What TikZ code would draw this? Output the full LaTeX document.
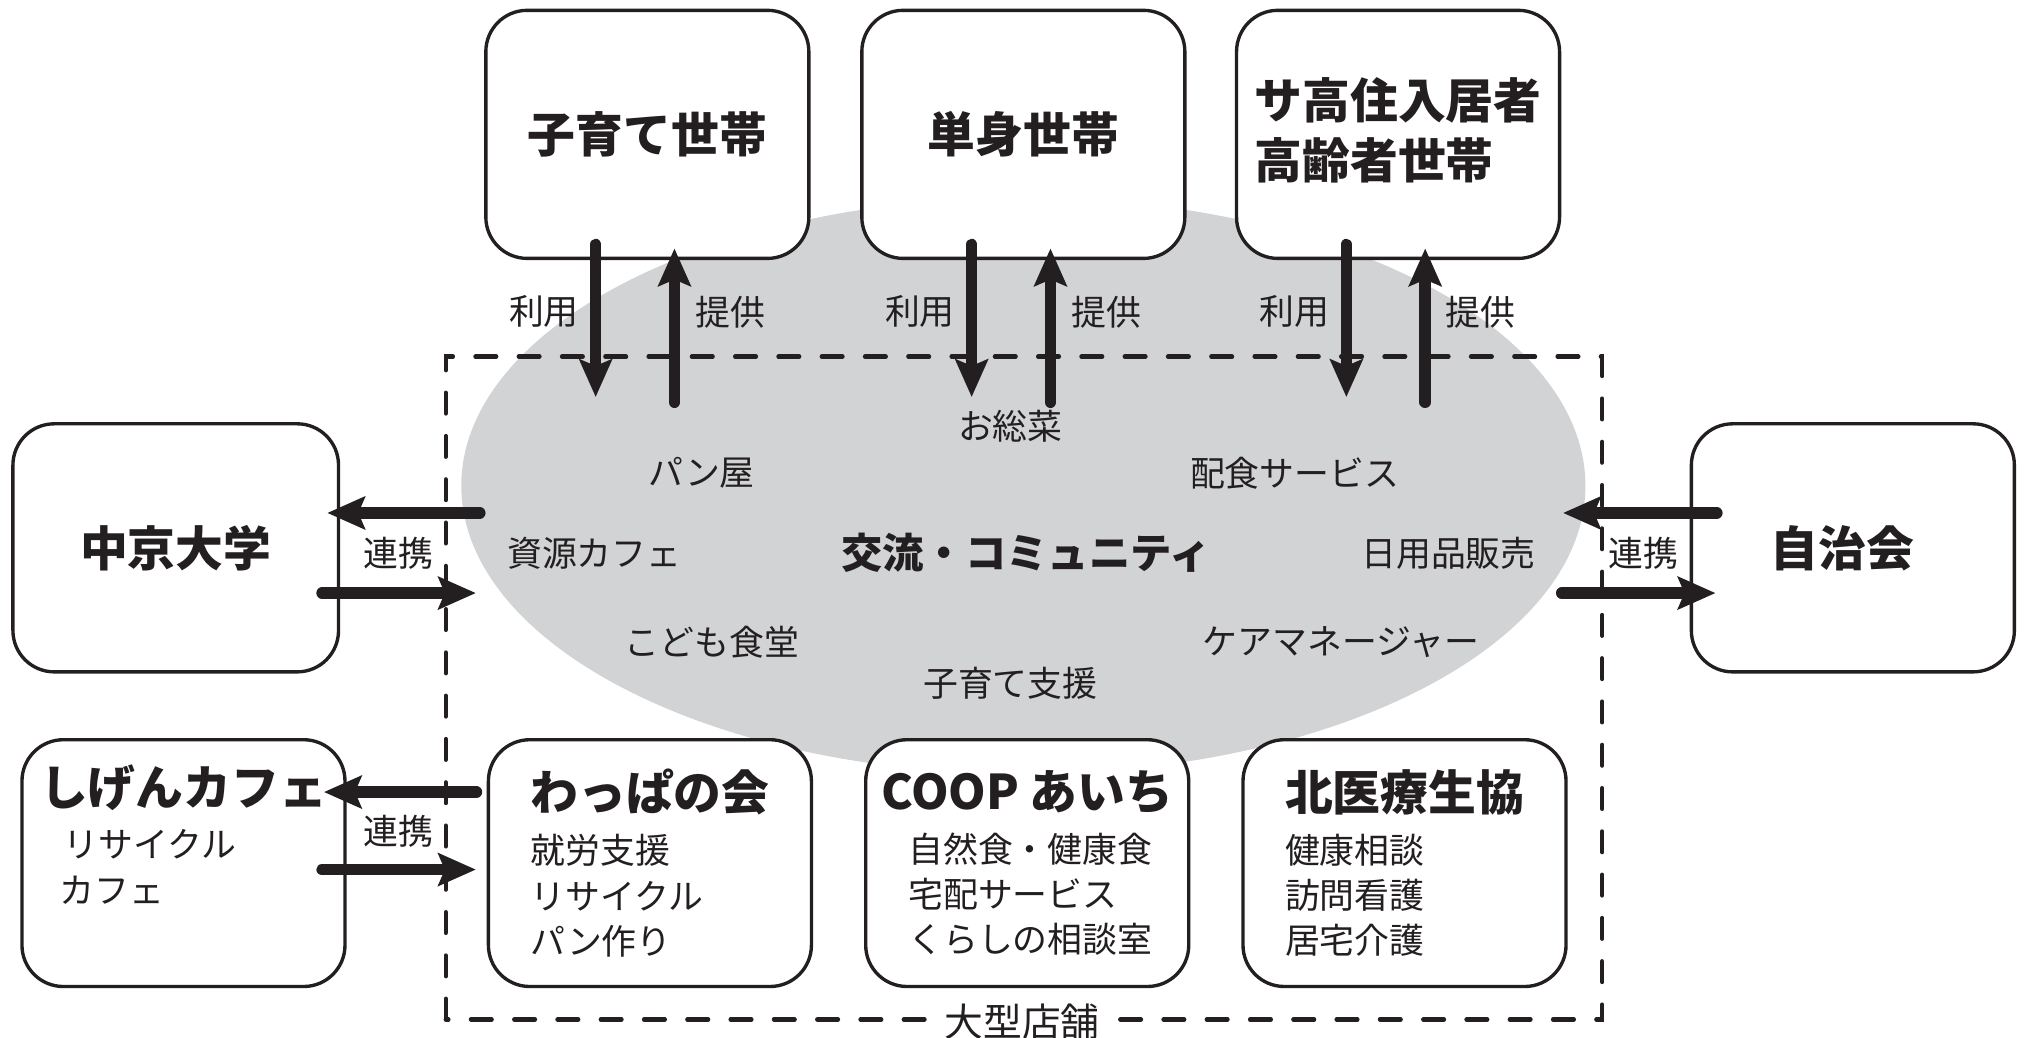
\documentclass[tikz,border=0pt]{standalone}
\usepackage{fontspec}
\setmainfont{Noto Sans CJK JP}
\usepackage{tikz}
\usetikzlibrary{arrows.meta}
\definecolor{ellgray}{RGB}{209,211,212}
\definecolor{ink}{RGB}{35,31,32}
\newcommand{\titlefont}{\fontsize{37}{46}\selectfont\bfseries}
\tikzset{box/.style={draw=ink, line width=2.6pt, fill=white, rounded corners=32pt,
   minimum width=250pt, minimum height=191pt, inner sep=0pt, text=ink},
 title/.style={font=\titlefont},
 lbl/.style={font=\fontsize{27}{35}\selectfont, text=ink},
 arr/.style={draw=ink, line width=9pt, line cap=round,
   -{Stealth[length=29pt,width=25pt,inset=5pt]}},
 store/.style={draw=ink, line width=3.4pt, line cap=round, dash pattern=on 16pt off 17.5pt},
 }

\begin{document}
\begin{tikzpicture}[x=1pt,y=1pt]
        \useasboundingbox (0,0) rectangle (1568,803);
        \fill[ellgray] (792,427) ellipse [x radius=435pt, y radius=223pt];
        \draw[store] (345,14) rectangle (1240,527);
        \node[lbl, fill=white, inner xsep=8pt, inner ysep=0pt, font=\fontsize{30}{35}\selectfont] (store) at (791,12) {大型店舗};

        \node[box, title, minimum height=192pt] (kosodate) at (501,699) {子育て世帯};
        \node[box, title, minimum height=192pt] (tanshin) at (792,699) {単身世帯};
        \node[box, title, minimum height=192pt, align=left] (sakou) at (1082,699) {サ高住入居者\\高齢者世帯\\[-36pt]};
        \node[box, title, minimum width=252pt, minimum height=192pt] (chukyo) at (136,379) {中京大学};
        \node[box, title, minimum height=192pt] (jichikai) at (1434,379) {自治会\hspace*{16pt}};

        \node[box, lbl, align=left] (shigen) at (142,135) {{\titlefont しげんカフェ}\\[6pt]
            \hspace*{18pt}リサイクル\\\hspace*{15pt}カフェ\\\strut};
        \node[box, lbl, align=left] (wappa) at (503,135) {{\titlefont わっぱの会}\\[6pt]
            就労支援\\リサイクル\\パン作り};
        \node[box, lbl, align=left] (coop) at (795,135) {{\titlefont COOP あいち}\\[6pt]
            \hspace*{21pt}自然食・健康食\\\hspace*{21pt}宅配サービス\\\hspace*{21pt}くらしの相談室};
        \node[box, lbl, align=left] (kita) at (1087,135) {{\titlefont 北医療生協}\\[6pt]
            健康相談\\訪問看護\\居宅介護};

        \foreach \b in {kosodate, tanshin, sakou} {
            \draw[arr] ([xshift=-40pt,yshift=12pt]\b.south) -- ++(0,-118);
            \draw[arr] ([xshift=21pt,yshift=-110pt]\b.south) -- ++(0,119);
            \node[lbl] at ([xshift=-80pt,yshift=-40pt]\b.south) {利用};
            \node[lbl] at ([xshift=64pt,yshift=-40pt]\b.south) {提供};
        }

        \draw[arr] ([xshift=108pt,yshift=27pt]chukyo.east) -- ++(-118,0);
        \draw[arr] ([xshift=-14pt,yshift=-35pt]chukyo.east) -- ++(119,0);
        \node[lbl] at ([xshift=45pt,yshift=-4pt]chukyo.east) {連携};
        \draw[arr] ([xshift=21pt,yshift=27pt]jichikai.west) -- ++(-119,0);
        \draw[arr] ([xshift=-99pt,yshift=-35pt]jichikai.west) -- ++(119,0);
        \node[lbl] at ([xshift=-36pt,yshift=-4pt]jichikai.west) {連携};
        \draw[arr] ([xshift=-8pt,yshift=55pt]wappa.west) -- ++(-118,0);
        \draw[arr] ([xshift=-19pt,yshift=-5pt]shigen.east) -- ++(119,0);
        \node[lbl] at ([xshift=40pt,yshift=25pt]shigen.east) {連携};

        \node[lbl] at (782,473) {お総菜};
        \node[lbl] at (543,437) {パン屋};
        \node[lbl] at (1002,437) {配食サービス};
        \node[lbl] at (460,375) {資源カフェ};
        \node[lbl, font=\fontsize{32}{38}\selectfont\bfseries] at (794,375) {交流・コミュニティ};
        \node[lbl] at (1121,375) {日用品販売};
        \node[lbl] at (551,306) {こども食堂};
        \node[lbl] at (1038,306) {ケアマネージャー};
        \node[lbl] at (782,274) {子育て支援};
    \end{tikzpicture}
\end{document}
